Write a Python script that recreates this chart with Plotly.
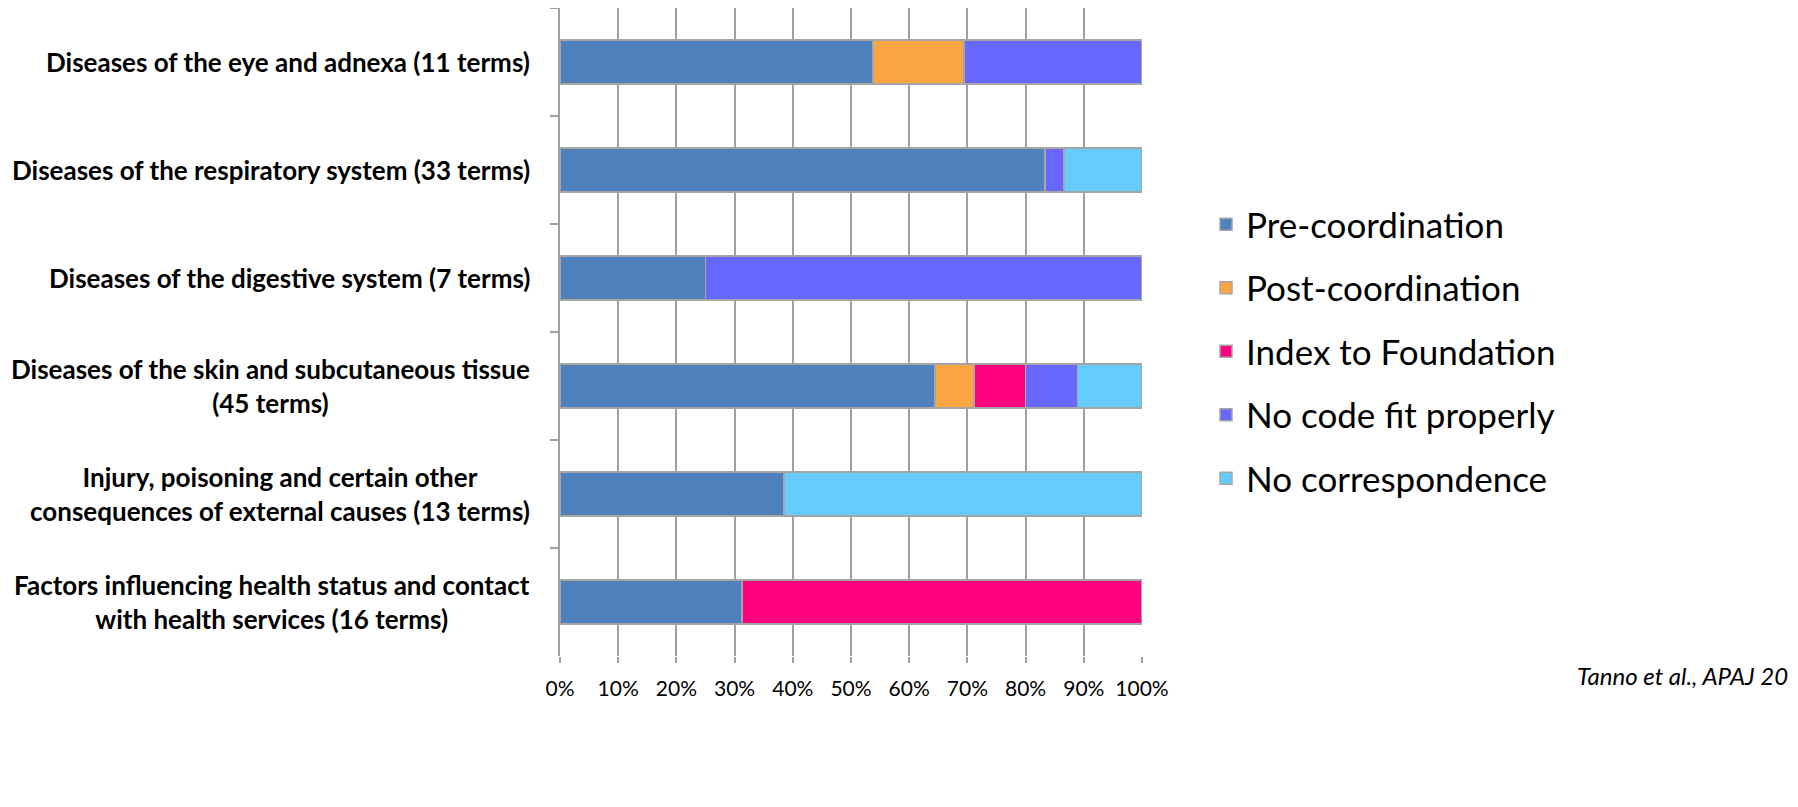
import plotly.graph_objects as go

categories = [
    "Diseases of the eye and adnexa (11 terms)",
    "Diseases of the respiratory system (33 terms)",
    "Diseases of the digestive system (7 terms)",
    "Diseases of the skin and subcutaneous tissue<br>(45 terms)",
    "Injury, poisoning and certain other<br>consequences of external causes (13 terms)",
    "Factors influencing health status and contact<br>with health services (16 terms)",
]
series_names = ["Pre-coordination", "Post-coordination", "Index to Foundation",
                "No code fit properly", "No correspondence"]
pre_coordination = [53.8, 83.3, 25.0, 64.4, 38.5, 31.3]
post_coordination = [15.6, 0, 0, 6.7, 0, 0]
index_to_foundation = [0, 0, 0, 8.9, 0, 68.7]
no_code_fit = [30.6, 3.3, 75.0, 8.9, 0, 0]
no_correspondence = [0, 13.4, 0, 11.1, 61.5, 0]
x_ticks = [0, 10, 20, 30, 40, 50, 60, 70, 80, 90, 100]
x_tick_labels = [f"{v}%" for v in x_ticks]
citation = "Tanno et al., APAJ 2016"

colors = ["#4F81BD", "#FBA444", "#FF0080", "#6868FF", "#66CCFF"]
values = [pre_coordination, post_coordination, index_to_foundation, no_code_fit, no_correspondence]

FONT = "Lato, 'Open Sans', sans-serif"
W, H = 1790, 799
L, R, T, B = 552, 656, 0, 151
PW, PH = W - L - R, H - T - B

fig = go.Figure()
for i, (name, vals) in enumerate(zip(series_names, values)):
    fig.add_trace(go.Bar(
        y=categories, x=vals, name=name, orientation="h",
        marker=dict(color=colors[i], line=dict(color="#A6A6A6", width=1.5)),
        legendgroup=f"g{i}",
    ))

for cat in categories:
    fig.add_annotation(x=-28 / PW, xref="paper", y=cat, yref="y", text=f"<b>{cat}</b>",
                       showarrow=False, xanchor="right", yanchor="middle", align="center",
                       font=dict(family=FONT, size=26, color="#000000"))

fig.add_annotation(x=(1567 - L) / PW, xref="paper", y=-(675 - 656) / PH, yref="paper",
                   text=f"<i>{citation}</i>", showarrow=False, xanchor="left", yanchor="middle",
                   font=dict(family=FONT, size=24, color="#000000"))

fig.update_layout(
    width=W, height=H,
    margin=dict(l=L, r=R, t=T, b=B),
    barmode="stack", bargap=0.59,
    plot_bgcolor="white", paper_bgcolor="white",
    font=dict(family=FONT, color="#000000"),
    legend=dict(x=(1198 - L) / PW, xanchor="left", y=0.47, yanchor="middle",
                traceorder="grouped", tracegroupgap=15,
                font=dict(family=FONT, size=35, color="#000000"),
                itemwidth=30),
    showlegend=True,
)
fig.update_xaxes(range=[0, 100], tickvals=x_ticks, ticktext=x_tick_labels,
                 showgrid=True, gridcolor="#A0A0A0", gridwidth=2,
                 zeroline=False, showline=False, ticks="outside", ticklen=6,
                 tickcolor="#A0A0A0", tickwidth=2, ticklabelstandoff=8,
                 tickfont=dict(family=FONT, size=21, color="#000000"))
fig.update_yaxes(autorange="reversed", showticklabels=False, showline=True,
                 linecolor="#A0A0A0", linewidth=2, ticks="outside", tickson="boundaries",
                 ticklen=8, tickcolor="#A0A0A0", tickwidth=2, showgrid=False)

fig.write_html("out.html")
